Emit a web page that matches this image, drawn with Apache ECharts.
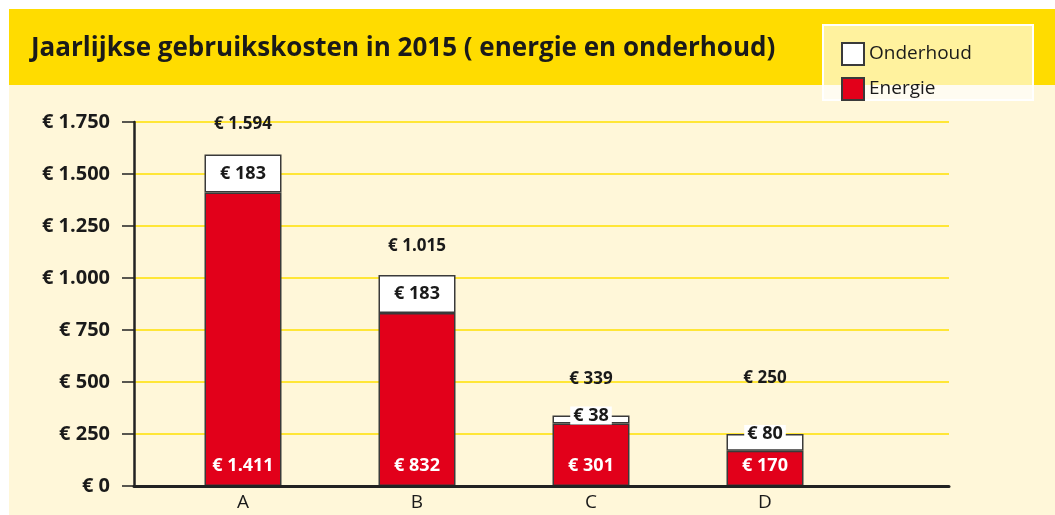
<!DOCTYPE html>
<html>
<head>
<meta charset="utf-8">
<script src="https://cdn.jsdelivr.net/npm/echarts@6/dist/echarts.min.js"></script>
<style>
  html, body { margin: 0; padding: 0; background: #fff; }
  #chart { width: 1055px; height: 515px; }
</style>
</head>
<body>
<div id="chart"></div>
<script>
const categories = ['A', 'B', 'C', 'D'];
const energie = [1411, 832, 301, 170];
const onderhoud = [183, 183, 38, 80];
const totaal = [1594, 1015, 339, 250];

const FONT = '"Open Sans", sans-serif';

// bedrag met punt als duizendtal-scheiding
function euro(v) {
  return '€ ' + String(v).replace(/\B(?=(\d{3})+(?!\d))/g, '.');
}

const chart = echarts.init(document.getElementById('chart'));

// kleine waarden: label op de bovenrand van de balk
const onderhoudData = onderhoud.map((v, i) => {
  const small = energie[i] + v < 500;
  return {
    value: v,
    label: small
      ? { position: ['50%', 0], align: 'center', verticalAlign: 'middle', backgroundColor: '#fff', padding: [0, 3] }
      : { position: 'inside' }
  };
});
const totalDistance = [22, 20, 28, 47];

const option = {
  backgroundColor: '#fff',
  animation: false,
  graphic: [
    { type: 'rect', shape: { x: 9, y: 85, width: 1046, height: 430 }, style: { fill: '#fff7d9' }, z: -10 },
    { type: 'rect', shape: { x: 9, y: 9, width: 1046, height: 76 }, style: { fill: '#ffdc00' }, z: -10 },
    {
      type: 'rect', shape: { x: 823, y: 25, width: 210, height: 75 },
      style: { fill: 'rgba(255,255,255,0.62)', stroke: '#fff', lineWidth: 2 }, z: -5
    },
    {
      type: 'text', x: 31, y: 49,
      style: {
        text: 'Jaarlijkse gebruikskosten in 2015 ( energie en onderhoud)',
        font: 'bold 26px ' + FONT, fill: '#1a1a1a', verticalAlign: 'middle'
      }
    }
  ],
  legend: {
    orient: 'vertical',
    left: 836, top: 37,
    itemWidth: 22, itemHeight: 22, itemGap: 11,
    icon: 'rect',
    data: ['Onderhoud', 'Energie'],
    textStyle: { fontFamily: FONT, fontSize: 19, color: '#1a1a1a' }
  },
  grid: [
    { left: 134, right: 106, top: 122, bottom: 29 },
    { left: 156, right: 203, top: 122, bottom: 29 }
  ],
  xAxis: [
    {
      type: 'value', gridIndex: 0, min: 0, max: 1,
      axisLabel: { show: false }, axisTick: { show: false }, splitLine: { show: false },
      axisLine: { show: true, lineStyle: { color: '#222', width: 3 } }, z: 5
    },
    {
      type: 'category', gridIndex: 1, data: categories,
      axisLine: { show: false }, axisTick: { show: false },
      axisLabel: { fontFamily: FONT, fontSize: 19, color: '#1a1a1a', margin: 7 }
    }
  ],
  yAxis: [
    {
      type: 'value', gridIndex: 0, min: 0, max: 1750, interval: 250,
      axisLine: { show: true, lineStyle: { color: '#222', width: 2.5 } },
      axisTick: { show: true, length: 12, lineStyle: { color: '#222', width: 1.5 } },
      splitLine: { show: true, lineStyle: { color: '#ffe100', width: 1.5 } },
      axisLabel: { formatter: euro, fontFamily: FONT, fontWeight: 'bold', fontSize: 20, color: '#1a1a1a', margin: 24 }
    },
    {
      type: 'value', gridIndex: 1, min: 0, max: 1750, interval: 250,
      axisLine: { show: false }, axisTick: { show: false }, splitLine: { show: false }, axisLabel: { show: false }
    }
  ],
  series: [
    {
      name: 'Energie', type: 'bar', stack: 'kosten', xAxisIndex: 1, yAxisIndex: 1,
      barWidth: 77, data: energie,
      itemStyle: { color: '#e2001a', borderColor: '#3a3a3a', borderWidth: 1.5 },
      label: {
        show: true, position: 'insideBottom', distance: 11, formatter: p => euro(p.value),
        fontFamily: FONT, fontWeight: 'bold', fontSize: 18, color: '#fff'
      }
    },
    {
      name: 'Onderhoud', type: 'bar', stack: 'kosten', xAxisIndex: 1, yAxisIndex: 1,
      barWidth: 77, data: onderhoudData,
      itemStyle: { color: '#fff', borderColor: '#3a3a3a', borderWidth: 1.5 },
      label: {
        show: true, formatter: p => euro(p.value),
        fontFamily: FONT, fontWeight: 'bold', fontSize: 18, color: '#1a1a1a'
      }
    },
    {
      name: 'Totaal', type: 'bar', stack: 'kosten', xAxisIndex: 1, yAxisIndex: 1,
      barWidth: 77,
      data: totaal.map((t, i) => ({ value: 0, label: { distance: totalDistance[i] } })),
      itemStyle: { color: 'transparent' },
      label: {
        show: true, position: 'top', formatter: p => euro(totaal[p.dataIndex]),
        fontFamily: FONT, fontWeight: 'bold', fontSize: 17, color: '#1a1a1a'
      }
    }
  ]
};

chart.setOption(option);
</script>
</body>
</html>
